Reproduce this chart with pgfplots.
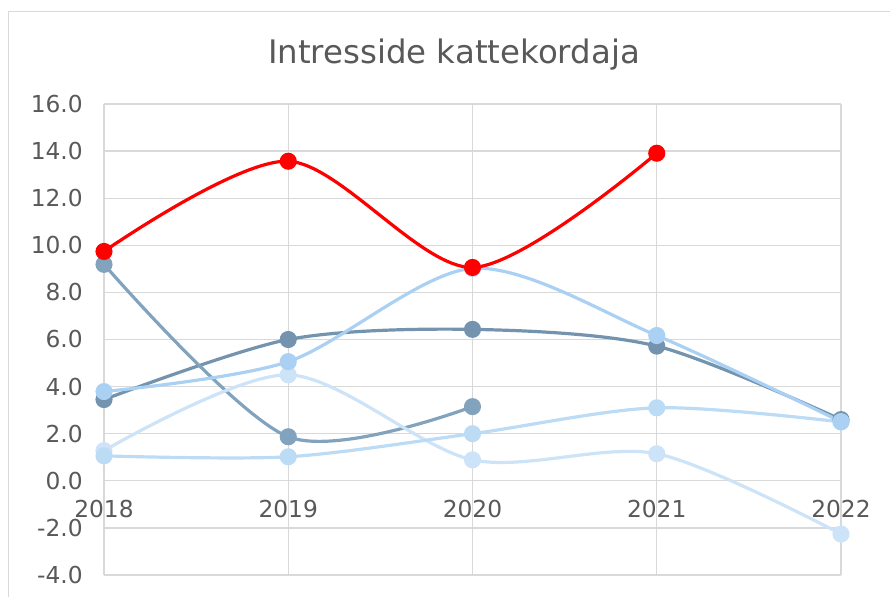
\documentclass[border=0pt]{standalone}
\usepackage{pgfplots}
\pgfplotsset{compat=1.18}
\usepackage{fontspec}
\setmainfont{DejaVu Sans}
\definecolor{txt}{HTML}{595959}
\definecolor{grd}{HTML}{D9D9D9}
\definecolor{sDark}{HTML}{7393AE}
\definecolor{sMed}{HTML}{82A3BE}
\definecolor{sLight}{HTML}{AAD1F3}
\definecolor{sLighter}{HTML}{BCDCF6}
\definecolor{sVLight}{HTML}{CCE3F8}
\definecolor{sRed}{HTML}{FF0000}
\begin{document}
\begin{tikzpicture}
\useasboundingbox (-78pt,-16.5pt) rectangle (589.5pt,431.25pt);
\draw[grd, line width=0.75pt] (-71.25pt,-16.5pt) -- (-71.25pt,422.25pt) -- (589.5pt,422.25pt);
\node[anchor=base, text=txt, font=\fontsize{24.3}{28}\selectfont] at (262.5pt,383.25pt) {Intresside kattekordaja};
\begin{axis}[
  at={(0,0)}, anchor=south west,
  scale only axis, width=552.75pt, height=353.25pt,
  xmin=2018, xmax=2022, ymin=-4, ymax=16,
  xtick={2018,2019,2020,2021,2022},
  xticklabels={2018,2019,2020,2021,2022},
  ytick={-4,-2,...,16},
  grid=major,
  major grid style={grd, line width=1pt},
  axis line style={draw=none},
  major tick length=0pt,
  tick style={draw=none},
  clip=false,
  ticklabel style={text=txt, font=\fontsize{17.5}{20}\selectfont},
  /pgf/number format/assume math mode=true,
  yticklabel style={/pgf/number format/fixed, /pgf/number format/fixed zerofill, /pgf/number format/precision=1, xshift=-12.4pt},
  xticklabel style={anchor=north, yshift=59.8pt},
  every axis plot/.append style={smooth, line width=2.4pt, mark=*, mark size=5.2pt},
]
\addplot[color=sDark, mark options={fill=sDark, draw=sDark}] coordinates {(2018,3.45) (2019,6.0) (2020,6.43) (2021,5.72) (2022,2.6)};
\addplot[color=sMed, mark options={fill=sMed, draw=sMed}] coordinates {(2018,9.19) (2019,1.87) (2020,3.15)};
\addplot[color=sVLight, mark options={fill=sVLight, draw=sVLight}] coordinates {(2018,1.28) (2019,4.5) (2020,0.89) (2021,1.15) (2022,-2.26)};
\addplot[color=sLighter, mark options={fill=sLighter, draw=sLighter}] coordinates {(2018,1.06) (2019,1.02) (2020,2.0) (2021,3.1) (2022,2.5)};
\addplot[color=sLight, mark options={fill=sLight, draw=sLight}] coordinates {(2018,3.79) (2019,5.06) (2020,9.02) (2021,6.17) (2022,2.51)};
\addplot[color=sRed, mark options={fill=sRed, draw=sRed}] coordinates {(2018,9.74) (2019,13.57) (2020,9.06) (2021,13.91)};
\end{axis}
\end{tikzpicture}
\end{document}
